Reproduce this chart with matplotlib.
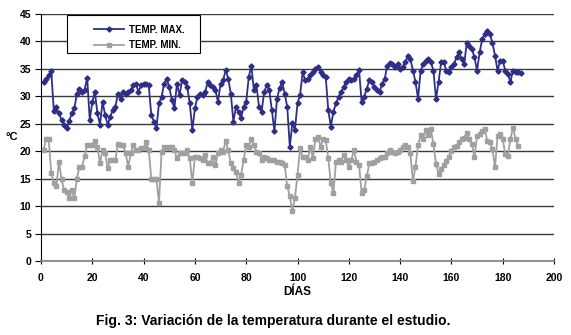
import numpy as np
import matplotlib
matplotlib.use("Agg")
import matplotlib.pyplot as plt
from matplotlib.patches import Rectangle

plt.rcParams['font.family'] = ['Liberation Sans', 'DejaVu Sans']
plt.rcParams['font.weight'] = 'bold'

# daily maximum temperature (°C), day 1 onwards
temp_max = [
    32.6, 33.2, 33.8, 34.6, 27.3, 28.0, 26.9, 25.7, 24.8, 24.2,
    25.5, 26.9, 27.8, 30.5, 31.4, 30.8, 31.2, 33.4, 25.7, 29.0,
    30.8, 26.9, 24.8, 29.0, 26.6, 24.8, 26.3, 27.5, 28.1, 30.5,
    29.6, 30.8, 30.5, 30.8, 31.1, 32.0, 32.3, 30.8, 32.0, 32.2,
    32.3, 32.0, 26.6, 25.4, 24.2, 28.7, 29.9, 32.3, 33.2, 31.7,
    29.3, 27.8, 32.3, 30.2, 32.9, 32.6, 31.7, 28.7, 23.9, 27.8,
    29.9, 30.5, 30.2, 30.8, 32.6, 32.0, 31.7, 31.1, 29.0, 32.3,
    32.9, 34.8, 33.2, 30.5, 25.4, 28.0, 27.2, 26.0, 28.1, 29.0,
    33.5, 35.6, 31.1, 32.0, 28.1, 27.2, 30.8, 32.0, 31.1, 27.5,
    23.6, 29.5, 31.5, 32.6, 30.5, 28.1, 20.8, 25.1, 23.9, 28.7,
    30.2, 34.4, 32.9, 33.2, 33.8, 34.4, 35.0, 35.3, 34.4, 33.8,
    33.5, 27.5, 24.5, 27.2, 28.7, 29.9, 30.8, 31.7, 32.6, 33.2,
    32.9, 33.2, 33.8, 34.8, 29.0, 29.9, 31.4, 32.9, 32.6, 31.7,
    31.1, 30.8, 32.3, 33.2, 35.6, 36.0, 35.9, 35.4, 35.9, 35.0,
    35.3, 36.2, 37.4, 36.8, 34.7, 32.6, 29.6, 34.7, 35.9, 36.5,
    36.8, 36.2, 34.7, 29.5, 32.6, 36.2, 36.2, 34.7, 34.4, 35.3,
    35.9, 37.1, 38.0, 36.8, 35.9, 39.8, 39.2, 38.6, 37.1, 34.7,
    38.0, 40.4, 41.3, 41.9, 41.3, 39.8, 37.4, 34.7, 36.5, 36.5,
    34.7, 34.1, 32.6, 34.7, 34.4, 34.4, 34.2,
]

# daily minimum temperature (°C)
temp_min = [
    20.2, 22.2, 22.2, 16.0, 14.2, 13.6, 18.1, 15.0, 12.9, 12.6,
    11.4, 12.9, 11.4, 15.0, 17.2, 17.2, 19.1, 21.1, 21.1, 21.1,
    21.9, 20.8, 17.8, 20.2, 19.6, 16.9, 18.4, 18.4, 18.4, 21.4,
    21.1, 21.1, 19.6, 17.2, 19.6, 21.1, 20.2, 20.2, 20.5, 20.5,
    21.7, 20.2, 15.0, 15.0, 15.0, 10.6, 19.9, 20.8, 20.5, 20.8,
    20.8, 20.2, 18.7, 19.6, 19.6, 19.6, 20.2, 18.7, 14.2, 19.0,
    19.0, 18.7, 18.4, 19.3, 17.8, 17.8, 19.0, 17.5, 19.6, 20.2,
    19.9, 21.9, 20.2, 17.8, 16.9, 16.3, 14.2, 15.7, 18.4, 21.1,
    20.8, 22.3, 21.1, 19.9, 19.6, 18.4, 19.0, 18.7, 18.4, 18.4,
    18.4, 18.1, 18.0, 17.8, 17.5, 13.6, 11.8, 9.1, 11.5, 15.7,
    20.5, 19.0, 19.0, 18.4, 20.8, 18.7, 22.3, 22.6, 20.8, 22.3,
    22.0, 18.7, 14.2, 12.4, 18.1, 18.4, 18.1, 19.3, 18.4, 17.2,
    18.4, 20.2, 18.1, 17.5, 12.4, 12.9, 15.4, 17.8, 17.8, 18.1,
    18.4, 18.7, 19.0, 19.0, 19.6, 20.3, 19.9, 19.6, 19.9, 20.2,
    20.8, 21.1, 20.8, 19.6, 14.5, 17.2, 21.1, 22.9, 22.3, 23.8,
    22.9, 24.0, 21.3, 17.7, 15.9, 16.8, 17.4, 18.3, 18.9, 20.1,
    20.7, 21.0, 21.6, 22.2, 22.5, 23.4, 22.2, 21.3, 18.9, 22.8,
    23.1, 23.7, 24.0, 21.9, 21.6, 20.4, 17.1, 22.8, 23.1, 22.2,
    19.5, 19.2, 22.2, 24.3, 22.2, 21.0,
]

days_max = np.arange(1, len(temp_max) + 1)
days_min = np.arange(1, len(temp_min) + 1)

W, H = 571, 335
fig = plt.figure(figsize=(W/100, H/100), dpi=100)
ax = fig.add_axes([41/W, 1 - 261/H, (554 - 41)/W, (261 - 14)/H])

ax.set_xlim(0, 200)
ax.set_ylim(0, 45)
ax.set_xticks(np.arange(0, 201, 20))
ax.set_yticks(np.arange(0, 46, 5))
ax.grid(axis='y', color='#3a3a3a', lw=1.0)
ax.set_axisbelow(True)

ax.plot(days_max, temp_max, color='#2e2e86', lw=1.3, marker='D', ms=2.6,
        label='TEMP. MAX.', zorder=3)
ax.plot(days_min, temp_min, color='#a0a0a0', lw=1.3, marker='s', ms=2.8,
        label='TEMP. MIN.', zorder=3)

for s in ['top', 'right']:
    ax.spines[s].set_visible(False)
ax.spines['left'].set_color('black')
ax.spines['bottom'].set_color('#808080')
ax.spines['bottom'].set_linewidth(1.2)

ax.tick_params(axis='y', direction='out', length=4, width=0.8, labelsize=7.5, pad=3)
ax.tick_params(axis='x', direction='inout', length=5, width=0.8, labelsize=7.5, pad=6)
for lab in ax.get_xticklabels() + ax.get_yticklabels():
    lab.set_fontweight('bold')

ax.set_xlabel('DÍAS', fontsize=8.5, fontweight='bold', labelpad=2)
fig.text(6/W, 1 - 137/H, '°C', fontsize=8, fontweight='bold',
         ha='left', va='center')

# legend box (white, black border) with the legend entries inside
box = Rectangle((67/W, 1 - 53/H), 133/W, 38/H, transform=fig.transFigure,
                facecolor='white', edgecolor='black', lw=0.8, zorder=4,
                clip_on=False)
ax.add_patch(box)
leg = ax.legend(loc='upper left', bbox_to_anchor=(86/W, 1 - 17/H),
                bbox_transform=fig.transFigure, fontsize=7, frameon=False,
                borderpad=0.3, handlelength=3.1, handletextpad=0.5,
                labelspacing=0.55)
leg.set_zorder(5)
for t in leg.get_texts():
    t.set_fontweight('bold')

fig.text(273/W, 1 - 321/H, 'Fig. 3: Variación de la temperatura durante el estudio.',
         fontsize=10, fontweight='bold', ha='center', va='center')

fig.savefig('out.png', dpi=100)
